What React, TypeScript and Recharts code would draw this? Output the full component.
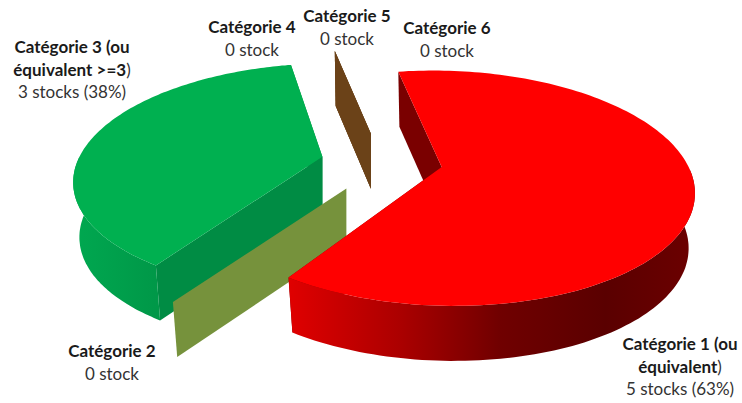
import React from "react";
import { PieChart, Pie } from "recharts";

const CATEGORIES = ["Catégorie 1", "Catégorie 2", "Catégorie 3", "Catégorie 4", "Catégorie 5", "Catégorie 6"];
const VALUES = [5, 0, 3, 0, 0, 0];
const TOP_COLORS = ["#FF0000", "#76923C", "#00B050", "#6B4218", "#6B4218", "#6B4218"];
const WALL_COLORS = ["#7A0000", "#76923C", "#008C44", "#6B4218", "#6B4218", "#6B4218"];
const RED_SIDE = [["0%", "#E00000"], ["27%", "#AC0000"], ["52%", "#700000"], ["78%", "#5A0000"], ["100%", "#6C0000"]];
const GREEN_SIDE = [["0%", "#00A850"], ["100%", "#009848"]];
const BOLD_LINES = [["Catégorie 1 (ou", "équivalent"], ["Catégorie 2"], ["Catégorie 3 (ou", "équivalent >=3"], ["Catégorie 4"], ["Catégorie 5"], ["Catégorie 6"]];
const CLOSING = [")", "", ")", "", "", ""];
const CAPTIONS = ["5 stocks (63%)", "0 stock", "3 stocks (38%)", "0 stock", "0 stock", "0 stock"];

// label layout: centre x and first baseline of each label
const LABEL_X = [680, 112, 72, 252, 347, 447];
const LABEL_Y = [350, 357, 53, 33, 22, 34];
const LINE_STEP = 22.5;

// view model of the tilted disc
const SQUASH = 112 / 245;
const PERSPECTIVE = 0.18;
const DEPTH = 55;
const BOTTOM_SHRINK = 0.975;
const EXPLODE = [0.2375, 0.27, 0.258, 0.27, 0.27, 0.27];
const RIM_SCALE = [1, 0.97, 1, 0.96, 0.96, 0.96];
// small drawing corrections of each slice's first and last edge, degrees
const EDGE_START = [-1.2, -2, -0.7, -0.7, -0.7, -0.7];
const EDGE_END = [-2.5, 0, 0, 0, 0, 0];
const FONT = "Lato, Carlito, sans-serif";

const rows = CATEGORIES.map((name, i) => ({ name, value: VALUES[i], idx: i })).reverse();

function Slice3D(props: any) {
  const { cx, cy, outerRadius: r, startAngle, endAngle, payload } = props;
  const idx = payload?.idx ?? props.idx;
  const rad = (a: number) => (a * Math.PI) / 180;
  const mid = rad((startAngle + endAngle) / 2);
  const e = EXPLODE[idx];
  const s = RIM_SCALE[idx];
  const ou = e * Math.cos(mid);
  const ov = -e * Math.sin(mid);
  const project = (u: number, v: number): [number, number] => {
    const w = 1 - PERSPECTIVE * v;
    return [cx + (r * u) / w, cy + (r * SQUASH * v) / w];
  };
  const apex = project(ou, ov);
  const rimTop = (a: number) => project(ou + s * Math.cos(rad(a)), ov - s * Math.sin(rad(a)));
  const lower = (p: [number, number]): [number, number] => [apex[0] + (p[0] - apex[0]) * BOTTOM_SHRINK, p[1] + DEPTH];
  const path = (pts: [number, number][]) =>
    "M" + pts.map((p) => `${p[0].toFixed(1)},${p[1].toFixed(1)}`).join("L") + "Z";

  const wall = (a: number) => path([apex, rimTop(a), lower(rimTop(a)), lower(apex)]);

  if (Math.abs(endAngle - startAngle) < 0.01) {
    return <path d={wall(startAngle + EDGE_START[idx])} fill={TOP_COLORS[idx]} />;
  }

  const a0 = startAngle + EDGE_START[idx];
  const a1 = endAngle + EDGE_END[idx];
  const arc: number[] = [];
  const n = 160;
  for (let i = 0; i <= n; i++) arc.push(a0 + ((a1 - a0) * i) / n);
  const topPts = arc.map((a) => rimTop(a));
  const front = arc.filter((a) => Math.sin(rad(a)) <= 0);
  const frontTop = front.map((a) => rimTop(a));
  const frontBot = frontTop.map(lower);
  const stops = idx === 0 ? RED_SIDE : GREEN_SIDE;
  const xs = frontTop.map((p) => p[0]);
  const gid = `side-${idx}`;
  return (
    <g>
      <defs>
        <linearGradient id={gid} gradientUnits="userSpaceOnUse" x1={Math.min(...xs)} x2={Math.max(...xs)} y1={0} y2={0}>
          {stops.map(([o, c]) => (
            <stop key={o} offset={o} stopColor={c} />
          ))}
        </linearGradient>
      </defs>
      <path d={wall(a0)} fill={WALL_COLORS[idx]} />
      <path d={wall(a1)} fill={WALL_COLORS[idx]} />
      <path d={path([...frontTop, ...frontBot.slice().reverse()])} fill={`url(#${gid})`} />
      <path d={path([apex, ...topPts])} fill={TOP_COLORS[idx]} />
    </g>
  );
}

function SliceLabel(props: any) {
  const idx = props.payload?.idx ?? props.idx;
  const x = LABEL_X[idx];
  const y = LABEL_Y[idx];
  const bold = BOLD_LINES[idx];
  return (
    <text textAnchor="middle" fontFamily={FONT} fontSize={17} fill="#333333" stroke="none">
      {bold.map((line, i) => (
        <tspan key={i} x={x} y={y + i * LINE_STEP}>
          <tspan fontWeight={700} fill="#1A1A1A">{line}</tspan>
          {i === bold.length - 1 && CLOSING[idx] ? <tspan>{CLOSING[idx]}</tspan> : null}
        </tspan>
      ))}
      <tspan x={x} y={y + bold.length * LINE_STEP}>{CAPTIONS[idx]}</tspan>
    </text>
  );
}

export default function App() {
  return (
    <div style={{ position: "absolute", left: 0, top: 0, width: 742, height: 403, background: "#fff" }}>
      <PieChart width={742} height={403} margin={{ top: 0, right: 0, bottom: 0, left: 0 }}>
        <Pie
          data={rows}
          dataKey="value"
          nameKey="name"
          cx={384}
          cy={162}
          innerRadius={0}
          outerRadius={245}
          startAngle={102}
          endAngle={462}
          paddingAngle={0}
          stroke="none"
          isAnimationActive={false}
          shape={Slice3D}
          label={SliceLabel}
          labelLine={false}
        />
      </PieChart>
    </div>
  );
}
